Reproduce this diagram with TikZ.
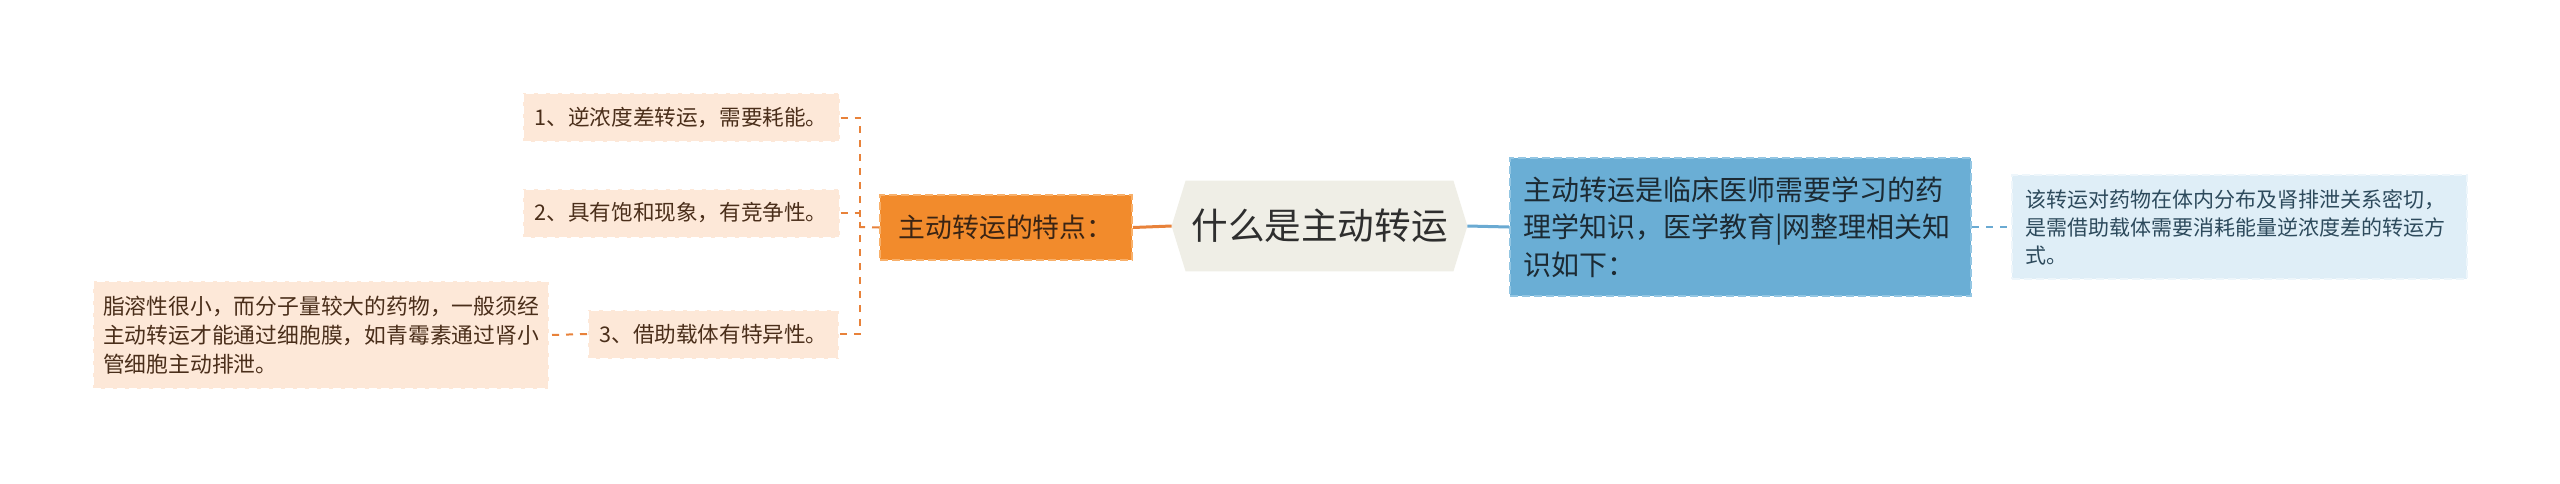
\documentclass[tikz,border=0pt]{standalone}
\usepackage{fontspec}
\setmainfont{Noto Sans CJK SC}
\usetikzlibrary{backgrounds}
\definecolor{itemfill}{HTML}{FDE8D8}
\definecolor{itemtext}{HTML}{4A2E1A}
\definecolor{orfill}{HTML}{F28B2C}
\definecolor{orborder}{HTML}{F8B06A}
\definecolor{ortext}{HTML}{3A2414}
\definecolor{rootfill}{HTML}{EFEEE6}
\definecolor{roottext}{HTML}{2E2E2E}
\definecolor{bluefill}{HTML}{6AAED5}
\definecolor{blueborder}{HTML}{93C6E3}
\definecolor{bluetext}{HTML}{1C2A33}
\definecolor{lbfill}{HTML}{DFEEF7}
\definecolor{lbborder}{HTML}{EEF6FB}
\definecolor{lbtext}{HTML}{2D4A5C}
\definecolor{orline}{HTML}{E8823A}
\definecolor{blline}{HTML}{6AAAD2}
\tikzset{
  boxdash/.style={dash pattern=on 4pt off 2pt, line width=1pt},
  itembox/.style={fill=itemfill, draw=white, boxdash, text=itemtext,
    font=\fontsize{10.8pt}{14.3pt}\selectfont, inner xsep=0pt, inner ysep=0pt,
    minimum height=24.5pt, align=center},
  leafbox/.style={fill=itemfill, draw=white, boxdash, text=itemtext,
    font=\fontsize{10.9pt}{14.4pt}\selectfont, inner xsep=5pt, inner ysep=0pt,
    text width=218pt, minimum height=54pt, align=left},
  orbox/.style={fill=orfill, draw=orborder, boxdash, text=ortext,
    font=\fontsize{13.4pt}{16pt}\selectfont, minimum width=126pt, minimum height=32.5pt, inner sep=0pt},
  rootnode/.style={text=roottext, font=\fontsize{18.3pt}{22pt}\selectfont,
    minimum width=147.5pt, minimum height=45pt, inner sep=0pt},
  bluebox/.style={fill=bluefill, draw=blueborder, boxdash, text=bluetext,
    font=\fontsize{14pt}{18.75pt}\selectfont, inner xsep=6.5pt, inner ysep=0pt,
    text width=217.5pt, minimum height=69pt, align=left},
  lbbox/.style={fill=lbfill, draw=lbborder, boxdash, text=lbtext,
    font=\fontsize{10.5pt}{14pt}\selectfont, inner xsep=6.5pt, inner ysep=0pt,
    text width=214.5pt, minimum height=52pt, align=left},
  orconn/.style={draw=orline, line width=1pt, dash pattern=on 3.5pt off 3.5pt},
  orsolid/.style={draw=orline, line width=1.5pt},
  blsolid/.style={draw=blline, line width=1.5pt},
  blconn/.style={draw=blline, line width=0.8pt, dash pattern=on 3.5pt off 3.5pt},
}
\begin{document}
\begin{tikzpicture}[x=0.5pt, y=-0.5pt]
\useasboundingbox (0,0) rectangle (2560,483);

% root
\node[rootnode] (root) at (1319.5,226) {什么是主动转运};
\begin{scope}[on background layer]
\fill[white] (0,0) rectangle (2560,483);
\fill[rootfill] (root.west) -- ([xshift=7pt]root.north west) -- ([xshift=-7pt]root.north east)
  -- (root.east) -- ([xshift=-7pt]root.south east) -- ([xshift=7pt]root.south west) -- cycle;
\end{scope}

% right side
\node[bluebox] (blue) at (1740.5,227) {主动转运是临床医师需要学习的药\\理学知识，医学教育|网整理相关知\\识如下：};
\node[lbbox] (lb) at (2239.5,227) {该转运对药物在体内分布及肾排泄关系密切，\\是需借助载体需要消耗能量逆浓度差的转运方\\式。};

% left side
\node[orbox] (or) at (1006,227.5) {主动转运的特点：};
\node[itembox, minimum width=158.5pt] (i1) at (681,117.5) {1、逆浓度差转运，需要耗能。};
\node[itembox, minimum width=158.5pt] (i2) at (681,213) {2、具有饱和现象，有竞争性。};
\node[itembox, minimum width=125.5pt] (i3) at (713.5,334) {3、借助载体有特异性。};
\node[leafbox] (leaf) at (321,335) {脂溶性很小，而分子量较大的药物，一般须经\\主动转运才能通过细胞膜，如青霉素通过肾小\\管细胞主动排泄。};

\coordinate (br) at (860,227);

% connectors
\draw[orsolid] (or.east) -- (root.west);
\draw[blsolid] (root.east) -- (blue.west);
\draw[blconn] (blue.east) -- (lb.west);
\draw[orconn] (or.west) -- (br);
\draw[orconn] (i1.east) -| (br);
\draw[orconn] (i2.east) -| (br);
\draw[orconn] (i3.east) -| (br);
\draw[orconn] (i3.west) -- (leaf.east);
\end{tikzpicture}
\end{document}
